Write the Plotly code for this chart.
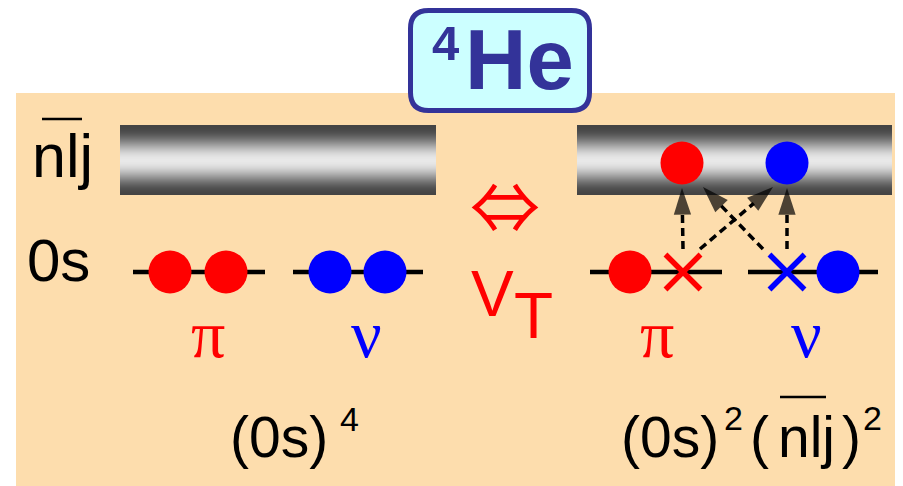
import numpy as np
import plotly.graph_objects as go

# ---------------- data ----------------
nucleus = ["4", "He"]
orbital_labels = ["nlj", "0s"]            # upper (bar) level, lower level
species = ["π", "ν"]
species_colors = ["#FF0000", "#0000FF"]
# occupancy of the two 0s slots for each species (1 = particle, 0 = hole)
occ_left_0s = {"π": [1, 1], "ν": [1, 1]}
occ_right_0s = {"π": [1, 0], "ν": [0, 1]}
occ_right_nlj = {"π": 1, "ν": 1}
# excitations: (hole species, target species in nlj)
excitations = [("π", "π"), ("π", "ν"), ("ν", "π"), ("ν", "ν")]
coupling = ["⇔", "V", "T"]
config_left = ["(0s)", "4"]
config_right = ["(0s)", "2", "(", "nlj", ")", "2"]

# ---------------- layout constants ----------------
W, H = 903, 486
OFF = 8  # page body margin compensation
SANS = "Liberation Sans, Arial, sans-serif"
SERIF = "Liberation Serif, Times New Roman, serif"
Y0S, YNLJ = 272, 163
BAR_Y = (125, 195)
BARS = [(120, 436), (577, 892)]
SEGMENTS = {"left": {"π": (133, 265), "ν": (293, 423)},
            "right": {"π": (590, 722), "ν": (748, 878)}}
SLOTS = {"left": {"π": [170, 226], "ν": [330, 385]},
         "right": {"π": [630, 683], "ν": [787, 838]}}
NLJ_X = {"π": 682, "ν": 787}
LABEL_X = {"left": {"π": 208, "ν": 366}, "right": {"π": 657, "ν": 806}}

fig = go.Figure()
shapes = []
annotations = []

# peach background
shapes.append(dict(type="rect", xref="x", yref="y", x0=16, x1=898, y0=93, y1=500,
                   fillcolor="#FDDDAD", line_width=0, layer="below"))

# gradient bars (cylinder shading)
ny = 70
yedges = np.linspace(BAR_Y[0], BAR_Y[1], ny + 1)
t = (np.arange(ny) + 0.5) / ny
shade = 68 + 164 * np.sin(np.pi * t) ** 2.2
for (bx0, bx1) in BARS:
    fig.add_trace(go.Heatmap(z=shade[:, None].tolist(), x=[bx0, bx1], y=yedges,
                             colorscale=[[0, "black"], [1, "white"]], zmin=0, zmax=255,
                             showscale=False, hoverinfo="skip", zsmooth="best"))

# level lines
lx, ly = [], []
for side in SEGMENTS:
    for sp in species:
        a, b = SEGMENTS[side][sp]
        lx += [a, b, None]
        ly += [Y0S, Y0S, None]
fig.add_trace(go.Scatter(x=lx, y=ly, mode="lines", line=dict(color="black", width=4.5),
                         hoverinfo="skip"))

# particles and holes
for sp, col in zip(species, species_colors):
    px, py, hx, hy = [], [], [], []
    for side, occ in (("left", occ_left_0s), ("right", occ_right_0s)):
        for xpos, o in zip(SLOTS[side][sp], occ[sp]):
            if o:
                px.append(xpos); py.append(Y0S)
            else:
                hx.append(xpos); hy.append(Y0S)
    if occ_right_nlj[sp]:
        px.append(NLJ_X[sp]); py.append(YNLJ)
    fig.add_trace(go.Scatter(x=px, y=py, mode="markers",
                             marker=dict(size=43, color=col, line_width=0), hoverinfo="skip"))
    fig.add_trace(go.Scatter(x=hx, y=hy, mode="markers",
                             marker=dict(symbol="x-thin", size=35,
                                         line=dict(color=col, width=5.5)), hoverinfo="skip"))

# dashed excitation arrows
hole_x = {"π": SLOTS["right"]["π"][1], "ν": SLOTS["right"]["ν"][0]}
for src, dst in excitations:
    x0 = hole_x[src]
    x1 = NLJ_X[dst]
    if src != dst:
        x0 = x0 + (17 if src == "π" else -24)
        x1 = x1 + (-14 if dst == "ν" else 21)
        y1 = 187
    else:
        y1 = 188
    fig.add_trace(go.Scatter(x=[x0, x1], y=[249, y1], mode="lines+markers",
                             line=dict(color="black", width=3.5, dash="8px,5px"),
                             marker=dict(symbol=["circle", "arrow"], size=[0, 28],
                                         color="black", angleref="previous",
                                         line=dict(width=0)),
                             hoverinfo="skip"))


def txt(s, x, y, size, color="black", family=SANS, xanchor="left"):
    annotations.append(dict(text=s, x=x, y=y, xref="x", yref="y", xanchor=xanchor,
                            yanchor="middle", showarrow=False,
                            font=dict(size=size, color=color, family=family)))


def overbar(x0, x1, y):
    shapes.append(dict(type="line", xref="x", yref="y", x0=x0, x1=x1, y0=y, y1=y,
                       line=dict(color="black", width=2.5)))


# title box
def rounded(x0, y0, x1, y1, r):
    return (f"M{x0+r},{y0} L{x1-r},{y0} Q{x1},{y0} {x1},{y0+r} L{x1},{y1-r} "
            f"Q{x1},{y1} {x1-r},{y1} L{x0+r},{y1} Q{x0},{y1} {x0},{y1-r} "
            f"L{x0},{y0+r} Q{x0},{y0} {x0+r},{y0} Z")


shapes.append(dict(type="path", xref="x", yref="y", path=rounded(410.5, 10.5, 589.5, 110.5, 18),
                   fillcolor="#CCFFFF", line=dict(color="#333399", width=5)))
txt(f"<b>{nucleus[0]}</b>", 430, 43, 49, "#333399", "Liberation Sans, Arial")
txt(f"<b>{nucleus[1]}</b>", 463, 59, 85, "#333399", "Liberation Sans, Arial")

# level labels
txt(orbital_labels[0], 30, 156, 61)
overbar(42, 82, 119)
txt(orbital_labels[1], 25, 260, 60)

# species labels
for side in LABEL_X:
    for sp, col in zip(species, species_colors):
        txt(sp, LABEL_X[side][sp], 334, 68, col, SERIF, "center")

# coupling
txt(coupling[0], 505, 203, 70, "#FF0000", "Noto Sans CJK JP, DejaVu Sans", "center")
txt(coupling[1], 469, 294, 64, "#FF0000")
txt(coupling[2], 512, 316, 64, "#FF0000")

# configurations
txt(config_left[0], 228, 437, 57)
txt(config_left[1], 338, 419, 34)
txt(config_right[0], 619, 437, 57)
txt(config_right[1], 722, 418, 34)
txt(config_right[2], 748, 437, 57)
txt(config_right[3], 776, 437, 57)
txt(config_right[4], 840, 437, 57)
overbar(780, 826, 397)
txt(config_right[5], 861, 418, 34)

fig.update_layout(
    width=W, height=H, margin=dict(l=0, r=0, t=0, b=0),
    paper_bgcolor="white", plot_bgcolor="white", showlegend=False,
    xaxis=dict(range=[OFF, W + OFF], visible=False, fixedrange=True),
    yaxis=dict(range=[H + OFF, OFF], visible=False, fixedrange=True),
    shapes=shapes, annotations=annotations,
)
fig.write_html("out.html")
